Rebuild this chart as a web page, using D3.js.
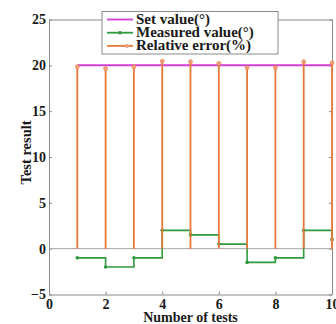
<!DOCTYPE html>
<html>
<head>
<meta charset="utf-8">
<script src="https://cdn.jsdelivr.net/npm/d3@7"></script>
<style>
  html, body { margin: 0; padding: 0; background: #fff; overflow: hidden; }
  text { font-family: "Liberation Serif", "Times New Roman", serif; font-weight: bold; fill: #1a1a1a; }
</style>
</head>
<body>
<div id="chart"></div>
<script>
// test index
const tests = [1, 2, 3, 4, 5, 6, 7, 8, 9, 10]
// series
const setValue = [20, 20, 20, 20, 20, 20, 20, 20, 20, 20]
const measured = [-1, -2, -1, 2, 1.5, 0.5, -1.5, -1, 2, 1]
const relError = [19.85, 19.65, 19.85, 20.45, 20.4, 20.2, 19.75, 19.75, 20.4, 20.25]
const xTicks = [0, 2, 4, 6, 8, 10]
const yTicks = [-5, 0, 5, 10, 15, 20, 25]
const legendLabels = ['Set value(°)', 'Measured value(°)', 'Relative error(%)']

const W = 336, H = 324
const colMagenta = '#d23fd6', colGreen = '#2f9a3e', colOrange = '#e5793a'

const svg = d3.select('#chart').append('svg')
    .attr('width', W)
    .attr('height', H)

const x = d3.scaleLinear().domain([0, 10]).range([49, 332])
const y = d3.scaleLinear().domain([-5, 25]).range([294.5, 19.5])

// axes, ticks inside like matlab
const axisCol = '#8a8a8a'
const gx = svg.append('g').attr('transform', 'translate(0,' + y(-5) + ')')
    .call(d3.axisBottom(x).tickValues(xTicks).tickSizeInner(-3).tickSizeOuter(0).tickPadding(5))
const gy = svg.append('g').attr('transform', 'translate(' + x(0) + ',0)')
    .call(d3.axisLeft(y).tickValues(yTicks).tickSizeInner(-3).tickSizeOuter(0).tickPadding(3))
const gt = svg.append('g').attr('transform', 'translate(0,' + y(25) + ')')
    .call(d3.axisTop(x).tickValues(xTicks).tickSizeInner(-3).tickSizeOuter(0).tickFormat(''))
const gr = svg.append('g').attr('transform', 'translate(' + x(10) + ',0)')
    .call(d3.axisRight(y).tickValues(yTicks).tickSizeInner(-3).tickSizeOuter(0).tickFormat(''))
for (let g of [gx, gy, gt, gr]) {
    g.selectAll('path,line').attr('stroke', axisCol).attr('stroke-width', 1)
}
gx.selectAll('text').style('font-size', '14px').style('font-family', '"Liberation Serif", serif').style('font-weight', 'bold')
gy.selectAll('text').style('font-size', '14px').style('font-family', '"Liberation Serif", serif').style('font-weight', 'bold')

// baseline of the stems
svg.append('line')
    .attr('x1', x(0)).attr('x2', x(10))
    .attr('y1', y(0)).attr('y2', y(0))
    .attr('stroke', '#a8a8a8').attr('stroke-width', 1)

// set value line
svg.append('path')
    .datum(tests.map((t, i) => [t, setValue[i]]))
    .attr('d', d3.line().x(d => x(d[0])).y(d => y(d[1])))
    .attr('fill', 'none').attr('stroke', colMagenta).attr('stroke-width', 2)

// measured value as stairs
svg.append('path')
    .datum(tests.map((t, i) => [t, measured[i]]))
    .attr('d', d3.line().curve(d3.curveStepAfter).x(d => x(d[0])).y(d => y(d[1])))
    .attr('fill', 'none').attr('stroke', colGreen).attr('stroke-width', 1.6)
svg.selectAll('.mdot').data(tests).enter().append('circle')
    .attr('cx', d => x(d)).attr('cy', (d, i) => y(measured[i])).attr('r', 1.8)
    .attr('fill', colGreen)

// relative error as stems
svg.selectAll('.stem').data(tests).enter().append('line')
    .attr('x1', d => x(d)).attr('x2', d => x(d))
    .attr('y1', y(0)).attr('y2', (d, i) => y(relError[i]))
    .attr('stroke', colOrange).attr('stroke-width', 1.8)
svg.selectAll('.edot').data(tests).enter().append('circle')
    .attr('cx', d => x(d)).attr('cy', (d, i) => y(relError[i])).attr('r', 2)
    .attr('fill', '#eea47a').attr('stroke', colOrange).attr('stroke-width', 0.6)
// green marker at the last point sits under the stem
svg.append('circle').attr('cx', x(10)).attr('cy', y(measured[9])).attr('r', 2)
    .attr('fill', '#c98a50')

// legend
const lg = svg.append('g').attr('transform', 'translate(102,11.5)')
lg.append('rect').attr('width', 176).attr('height', 42.5)
    .attr('fill', '#fff').attr('stroke', '#8a8a8a').attr('stroke-width', 1)
const legCols = [colMagenta, colGreen, colOrange]
legendLabels.forEach(function (lab, i) {
    let yy = 8 + i * 13.2
    lg.append('line').attr('x1', 5).attr('x2', 31).attr('y1', yy).attr('y2', yy)
        .attr('stroke', legCols[i]).attr('stroke-width', 1.8)
    if (i === 1) lg.append('circle').attr('cx', 18).attr('cy', yy).attr('r', 1.8).attr('fill', colGreen)
    if (i === 2) lg.append('circle').attr('cx', 25).attr('cy', yy).attr('r', 2).attr('fill', '#eea47a')
    lg.append('text').attr('x', 34).attr('y', yy + 4.5)
        .style('font-size', '15px').text(lab)
})

// axis titles
svg.append('text').attr('x', x(5)).attr('y', 322)
    .attr('text-anchor', 'middle').style('font-size', '14px').text('Number of tests')
svg.append('text').attr('transform', 'translate(31,' + y(10.5) + ') rotate(-90)')
    .attr('text-anchor', 'middle').style('font-size', '14.5px').text('Test result')
</script>
</body>
</html>
